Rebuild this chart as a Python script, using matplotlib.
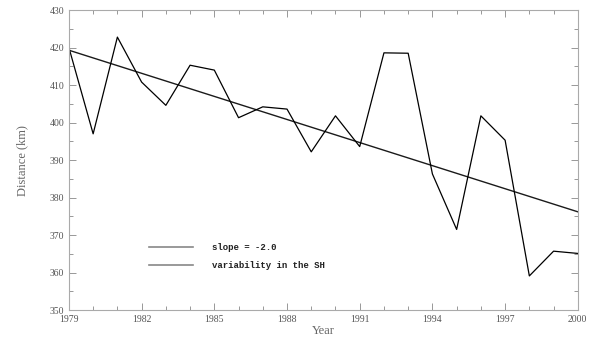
import matplotlib
matplotlib.use("Agg")
import matplotlib.pyplot as plt
from matplotlib.ticker import MultipleLocator, FixedLocator

years = list(range(1979, 2001))
distance = [420, 397, 422.8, 410.8, 404.6, 415.3, 414.0, 401.3, 404.2, 403.6,
            392.2, 401.8, 393.6, 418.6, 418.5, 386.3, 371.5, 401.8, 395.3,
            359.1, 365.7, 365.1]
trend_years = [1979, 2000]
trend_vals = [419.3, 376.2]
year_ticks = [1979, 1982, 1985, 1988, 1991, 1994, 1997, 2000]
legend_labels = ["slope = -2.0", "variability in the SH"]

plt.rcParams["font.family"] = "Liberation Serif"
fig = plt.figure(figsize=(5.89, 3.37), dpi=100)
ax = fig.add_axes([0.117, 0.080, 0.864, 0.890])

ax.plot(trend_years, trend_vals, color="#1a1a1a", linewidth=1.0)
ax.plot(years, distance, color="black", linewidth=0.9)

ax.set_xlim(1979, 2000)
ax.set_ylim(350, 430)
ax.xaxis.set_major_locator(FixedLocator(year_ticks))
ax.xaxis.set_minor_locator(MultipleLocator(1))
ax.yaxis.set_major_locator(MultipleLocator(10))
ax.yaxis.set_minor_locator(MultipleLocator(5))
ax.tick_params(which="both", direction="in", top=True, right=True,
               colors="#888888", labelcolor="#555555", labelsize=7, width=0.6)
ax.tick_params(which="major", length=5)
ax.tick_params(which="minor", length=3)
for sp in ax.spines.values():
    sp.set_color("#aaaaaa")
    sp.set_linewidth(0.8)

ax.set_xlabel("Year", color="#666666", fontsize=9, labelpad=1)
ax.set_ylabel("Distance (km)", color="#666666", fontsize=9, labelpad=15)

# legend drawn as in the original: two short grey lines with bold text
ax.plot([1982.3, 1984.1], [366.8, 366.8], color="#888888", linewidth=1.2)
ax.plot([1982.3, 1984.1], [362.0, 362.0], color="#888888", linewidth=1.2)
ax.text(1984.9, 366.8, legend_labels[0], fontsize=6.5, fontweight="bold",
        va="center", color="#222222", family="Liberation Mono")
ax.text(1984.9, 362.0, legend_labels[1], fontsize=6.5, fontweight="bold",
        va="center", color="#222222", family="Liberation Mono")

fig.savefig("out.png", dpi=100)
